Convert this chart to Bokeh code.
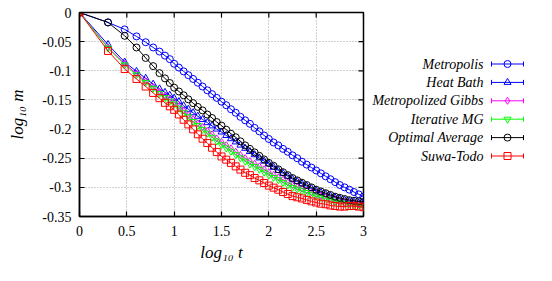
import numpy as np
from bokeh.plotting import figure
from bokeh.models import Range1d, FixedTicker
from bokeh.layouts import row
from bokeh.embed import file_html
from bokeh.resources import INLINE
from bokeh.core.properties import value

# ---------------- data ----------------
log10_t = [0, 0.301, 0.477, 0.602, 0.699, 0.778, 0.845, 0.903, 0.954, 1.0,
           1.05, 1.1, 1.15, 1.2, 1.25, 1.3, 1.35, 1.4, 1.45, 1.5,
           1.55, 1.6, 1.65, 1.7, 1.75, 1.8, 1.85, 1.9, 1.95, 2.0,
           2.05, 2.1, 2.15, 2.2, 2.25, 2.3, 2.35, 2.4, 2.45, 2.5,
           2.55, 2.6, 2.65, 2.7, 2.75, 2.8, 2.85, 2.9, 2.95, 3.0]

metropolis = [0, -0.017, -0.029, -0.041, -0.051, -0.060, -0.067, -0.074, -0.080, -0.088,
              -0.0945, -0.101, -0.1075, -0.114, -0.1205, -0.127, -0.1335, -0.140, -0.1465, -0.153,
              -0.159, -0.166, -0.172, -0.179, -0.185, -0.191, -0.198, -0.204, -0.211, -0.217,
              -0.223, -0.228, -0.234, -0.239, -0.245, -0.250, -0.256, -0.261, -0.266, -0.271,
              -0.276, -0.281, -0.286, -0.291, -0.296, -0.300, -0.304, -0.308, -0.312, -0.316]

heat_bath = [0, -0.055, -0.085, -0.101, -0.113, -0.123, -0.131, -0.137, -0.142, -0.147,
             -0.153, -0.160, -0.166, -0.172, -0.178, -0.1835, -0.189, -0.1945, -0.200, -0.205,
             -0.211, -0.2165, -0.222, -0.2275, -0.233, -0.2385, -0.244, -0.2495, -0.255, -0.260,
             -0.2655, -0.271, -0.276, -0.281, -0.286, -0.290, -0.294, -0.298, -0.302, -0.306,
             -0.309, -0.312, -0.315, -0.318, -0.320, -0.322, -0.324, -0.3255, -0.327, -0.328]

metropolized_gibbs = [0, -0.060, -0.088, -0.105, -0.118, -0.128, -0.136, -0.143, -0.149, -0.154,
                      -0.161, -0.168, -0.176, -0.183, -0.190, -0.1965, -0.203, -0.209, -0.216, -0.222,
                      -0.2275, -0.233, -0.239, -0.2445, -0.250, -0.255, -0.2595, -0.264, -0.269, -0.274,
                      -0.2785, -0.283, -0.287, -0.2915, -0.296, -0.299, -0.302, -0.3055, -0.309, -0.312,
                      -0.3145, -0.317, -0.319, -0.3215, -0.324, -0.3255, -0.327, -0.328, -0.3295, -0.331]

iterative_mg = [0, -0.061, -0.090, -0.107, -0.120, -0.130, -0.139, -0.146, -0.152, -0.157,
                -0.164, -0.172, -0.179, -0.187, -0.194, -0.2005, -0.207, -0.214, -0.2205, -0.227,
                -0.2325, -0.238, -0.244, -0.2495, -0.255, -0.260, -0.2645, -0.269, -0.274, -0.279,
                -0.283, -0.287, -0.2915, -0.296, -0.300, -0.303, -0.306, -0.309, -0.312, -0.315,
                -0.317, -0.319, -0.3215, -0.324, -0.326, -0.3275, -0.329, -0.330, -0.3315, -0.333]

optimal_average = [0, -0.017, -0.040, -0.060, -0.078, -0.092, -0.104, -0.113, -0.121, -0.129,
                   -0.1355, -0.142, -0.149, -0.1555, -0.162, -0.168, -0.175, -0.181, -0.188, -0.194,
                   -0.201, -0.208, -0.214, -0.221, -0.228, -0.234, -0.240, -0.246, -0.252, -0.258,
                   -0.263, -0.269, -0.274, -0.279, -0.284, -0.288, -0.292, -0.296, -0.300, -0.304,
                   -0.307, -0.310, -0.313, -0.316, -0.318, -0.320, -0.322, -0.323, -0.324, -0.325]

suwa_todo = [0, -0.066, -0.097, -0.114, -0.127, -0.138, -0.147, -0.155, -0.161, -0.167,
             -0.175, -0.184, -0.192, -0.2005, -0.209, -0.2165, -0.224, -0.232, -0.2395, -0.247,
             -0.2525, -0.258, -0.264, -0.2695, -0.275, -0.279, -0.284, -0.288, -0.2925, -0.297,
             -0.3005, -0.304, -0.308, -0.3115, -0.315, -0.317, -0.319, -0.3215, -0.324, -0.326,
             -0.328, -0.329, -0.331, -0.332, -0.333, -0.333, -0.332, -0.332, -0.333, -0.334]

series_names = ["Metropolis", "Heat Bath", "Metropolized Gibbs", "Iterative MG",
                "Optimal Average", "Suwa-Todo"]
series_values = [metropolis, heat_bath, metropolized_gibbs, iterative_mg,
                 optimal_average, suwa_todo]
series_colors = ["#0000ff", "#0000ff", "#ff00ff", "#00ff00", "#000000", "#ff0000"]
series_markers = ["circle", "triangle", "diamond", "inverted_triangle", "circle", "square"]

x_ticks = [0, 0.5, 1, 1.5, 2, 2.5, 3]
x_tick_labels = ["0", "0.5", "1", "1.5", "2", "2.5", "3"]
y_ticks = [0, -0.05, -0.1, -0.15, -0.2, -0.25, -0.3, -0.35]
y_tick_labels = ["0", "-0.05", "-0.1", "-0.15", "-0.2", "-0.25", "-0.3", "-0.35"]

SERIF = "Liberation Serif"

# ---------------- main plot ----------------
FW, FH = 284, 204
X0, X1, Y0, Y1 = 0, 3, -0.35, 0
p = figure(frame_width=FW, frame_height=FH,
           min_border_left=79, min_border_right=4, min_border_top=12, min_border_bottom=64,
           x_range=Range1d(X0, X1), y_range=Range1d(Y0, Y1),
           output_backend="svg", toolbar_location=None)
p.title.visible = False
p.outline_line_color = "black"
p.outline_line_width = 1.5
p.background_fill_color = "white"
p.border_fill_color = "white"

p.xaxis.ticker = FixedTicker(ticks=x_ticks)
p.yaxis.ticker = FixedTicker(ticks=y_ticks)
p.xaxis.major_label_overrides = dict(zip(x_ticks, x_tick_labels))
p.yaxis.major_label_overrides = dict(zip(y_ticks, y_tick_labels))
p.axis.major_tick_in = 5
p.axis.major_tick_out = 0
p.axis.minor_tick_line_color = None
p.axis.major_tick_line_color = "black"
p.axis.major_tick_line_width = 1.2
p.axis.axis_line_color = "black"
p.axis.axis_line_width = 1.5
p.axis.major_label_text_font = SERIF
p.axis.major_label_text_font_size = "14px"
p.axis.major_label_text_color = "black"
p.xaxis.major_label_standoff = 9
p.yaxis.major_label_standoff = 8

p.xaxis.axis_label = "log\u2081\u2080 t"
p.yaxis.axis_label = "log\u2081\u2080 m"
p.axis.axis_label_text_font = SERIF
p.axis.axis_label_text_font_style = "italic"
p.axis.axis_label_text_font_size = "17px"
p.axis.axis_label_text_color = "black"
p.xaxis.axis_label_standoff = 4
p.yaxis.axis_label_standoff = 12

p.xgrid.ticker = FixedTicker(ticks=x_ticks)
p.ygrid.ticker = FixedTicker(ticks=y_ticks)
p.grid.grid_line_color = "#a0a0a0"
p.grid.grid_line_dash = "1 2"
p.grid.grid_line_width = 1

# mirrored inward ticks on top and right edges (5 px long)
tick_dy = 5 * (Y1 - Y0) / FH
tick_dx = 5 * (X1 - X0) / FW
p.segment(x_ticks, [Y1] * len(x_ticks), x_ticks, [Y1 - tick_dy] * len(x_ticks),
          line_color="black", line_width=1.2)
p.segment([X1] * len(y_ticks), y_ticks, [X1 - tick_dx] * len(y_ticks), y_ticks,
          line_color="black", line_width=1.2)

for name, vals, col, mk in zip(series_names, series_values, series_colors, series_markers):
    p.line(log10_t, vals, line_color=col, line_width=1)
    p.scatter(log10_t, vals, marker=mk, size=7, line_color=col, fill_color=None, line_width=1)

# ---------------- legend panel (text then error-bar style sample) ----------------
PW = 79 + FW + 4
LW, LH = 551 - PW, 12 + FH + 64
leg = figure(frame_width=LW, frame_height=LH, min_border=0,
             x_range=Range1d(0, LW), y_range=Range1d(LH, 0),
             x_axis_location=None, y_axis_location=None,
             output_backend="svg", toolbar_location=None)
leg.title.visible = False
leg.outline_line_color = None
leg.grid.visible = False
leg.background_fill_color = "white"
leg.border_fill_color = "white"

row0, dy = 51.5, 18.4
text_right, s0, s1, cap = 483 - PW, 491 - PW, 523 - PW, 2.5
for i, (name, col, mk) in enumerate(zip(series_names, series_colors, series_markers)):
    yy = row0 + i * dy
    leg.text([text_right], [yy], text=[name], text_align="right", text_baseline="middle",
             text_font=value(SERIF), text_font_style="italic", text_font_size="14px",
             text_color="black")
    leg.segment([s0, s0, s1], [yy, yy - cap, yy - cap], [s1, s0, s1], [yy, yy + cap, yy + cap],
                line_color=col, line_width=1)
    leg.scatter([(s0 + s1) / 2], [yy], marker=mk, size=7, line_color=col,
                fill_color=None, line_width=1)

layout = row(p, leg)
open("out.html", "w").write(file_html(layout, INLINE))
